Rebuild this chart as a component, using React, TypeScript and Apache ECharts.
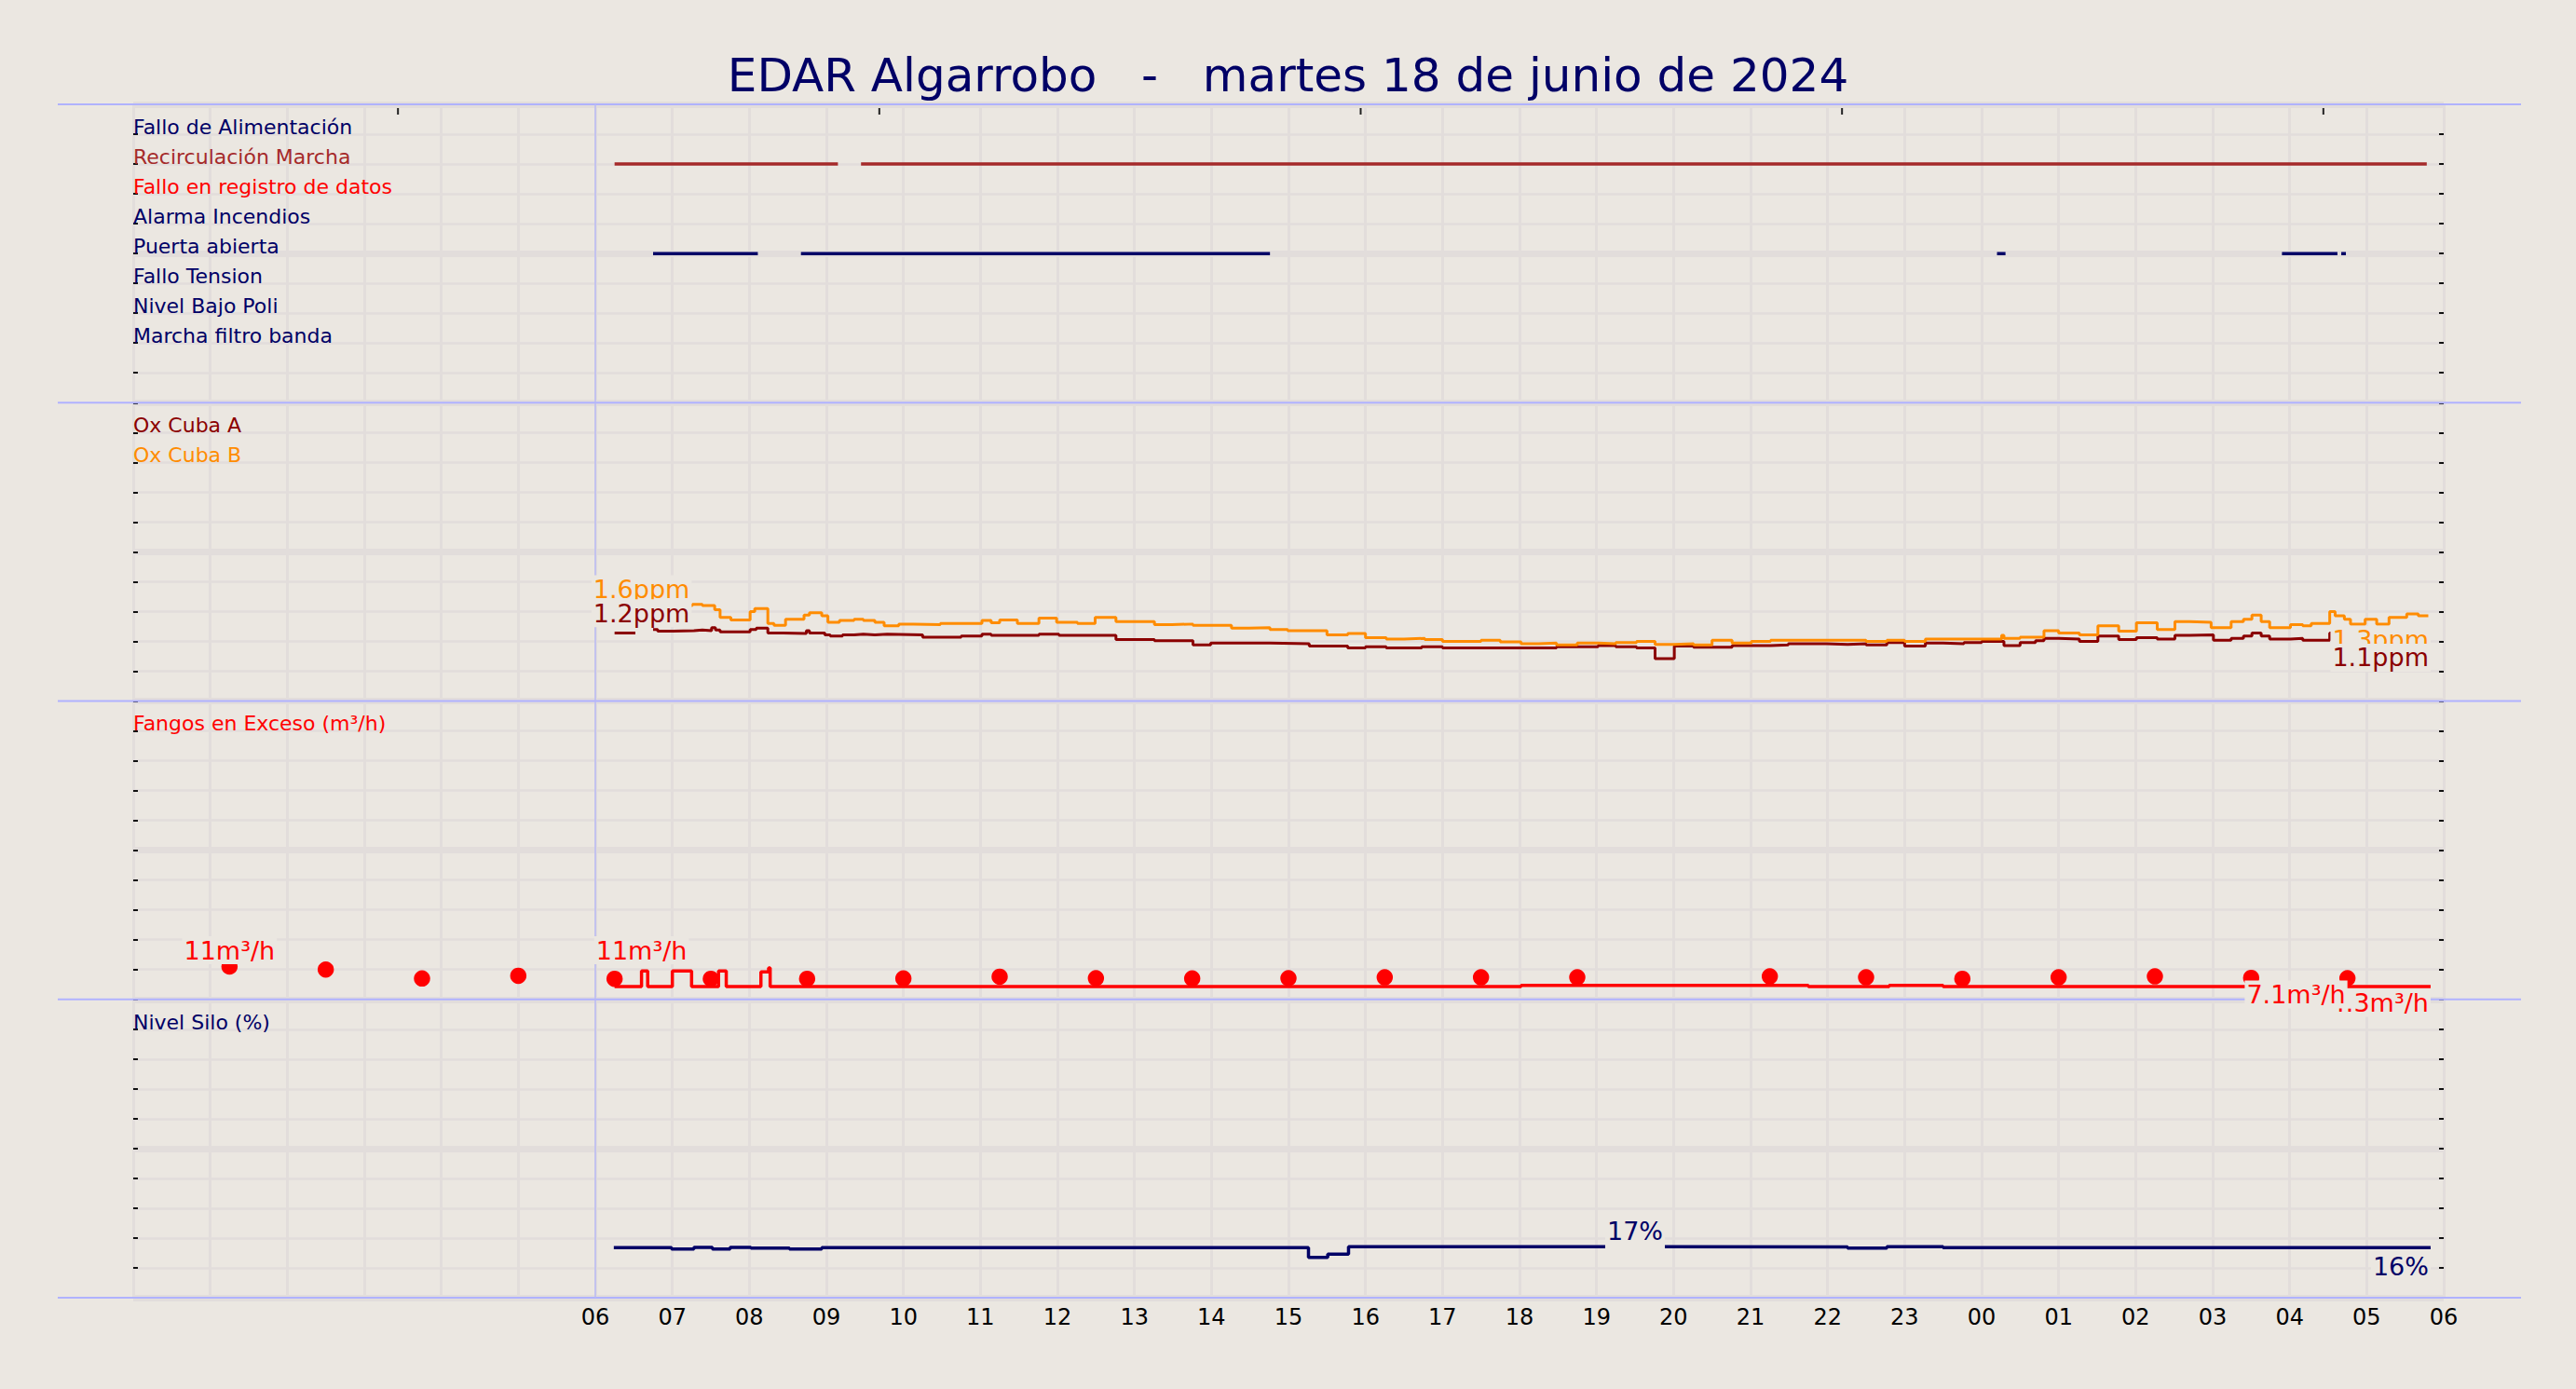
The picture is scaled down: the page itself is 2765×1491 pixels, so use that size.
import { useEffect, useRef } from 'react';
import * as echarts from 'echarts';

const TITLE = 'EDAR Algarrobo   -   martes 18 de junio de 2024';

// panel 1: digital signals, one row each (top to bottom)
const signalRows = [
  'Fallo de Alimentación',
  'Recirculación Marcha',
  'Fallo en registro de datos',
  'Alarma Incendios',
  'Puerta abierta',
  'Fallo Tension',
  'Nivel Bajo Poli',
  'Marcha filtro banda',
];
const signalColors = ['#000066', '#a52a2a', '#ff0000', '#000066', '#000066', '#000066', '#000066', '#000066'];

// on-intervals in hours since 00:00 of the 18th
const recircOn = [[6.25, 9.15], [9.45, 29.78]];
const puertaOn = [[6.75, 8.11], [8.67, 14.76], [24.2, 24.31], [27.9, 28.62], [28.67, 28.73]];

// small marks along the top edge
const topTickHours = [3.4375, 9.6875, 15.9375, 22.1875, 28.4375];

// panel 2: oxygen (ppm), step points [hour, value], null = no data
const oxCubaA = [
  [6.25, 1.14], [6.51, 1.14], [6.52, null], [6.75, 1.2], [6.81, 1.17], [7.01, 1.18], [7.28, 1.19],
  [7.39, 1.18], [7.51, 1.23], [7.56, 1.19], [7.62, 1.16], [8.01, 1.2], [8.09, 1.22], [8.24, 1.14],
  [8.44, 1.13], [8.74, 1.18], [8.78, 1.14], [8.98, 1.11], [9.05, 1.09], [9.21, 1.11], [9.36, 1.12],
  [9.48, 1.11], [9.63, 1.12], [9.79, 1.11], [10.25, 1.07], [10.75, 1.09], [11.02, 1.12], [11.14, 1.1],
  [11.76, 1.12], [12.02, 1.1], [12.76, 1.03], [13.26, 1.01], [13.76, 0.94], [13.99, 0.97], [14.76, 0.96],
  [15.27, 0.92], [15.77, 0.89], [16.0, 0.91], [16.27, 0.89], [16.73, 0.91], [17.0, 0.89], [18.48, 0.91],
  [19.02, 0.93], [19.25, 0.91], [19.52, 0.89], [19.76, 0.71], [20.01, 0.92], [20.26, 0.9], [20.76, 0.93],
  [21.26, 0.94], [21.49, 0.96], [21.99, 0.95], [22.26, 0.96], [22.5, 0.94], [22.77, 0.98], [23.0, 0.92],
  [23.27, 0.97], [23.5, 0.96], [23.77, 0.98], [24.0, 1.0], [24.29, 0.93], [24.5, 0.98], [24.7, 1.01],
  [24.81, 1.05], [25.0, 1.04], [25.27, 1.0], [25.51, 1.09], [25.78, 1.03], [26.01, 1.06], [26.28, 1.04],
  [26.51, 1.1], [26.7, 1.11], [27.01, 1.02], [27.24, 1.05], [27.4, 1.09], [27.51, 1.14], [27.63, 1.09],
  [27.74, 1.04], [28.01, 1.05], [28.17, 1.02], [28.52, 1.14], [28.59, 1.13], [28.71, 1.08], [28.79, 1.06],
  [29.13, 1.04], [29.52, 1.06], [29.8, 1.06],
];
const oxCubaB = [
  [6.25, 1.6], [7.26, 1.62], [7.39, 1.6], [7.55, 1.53], [7.62, 1.4], [7.76, 1.36], [8.01, 1.5],
  [8.07, 1.55], [8.24, 1.3], [8.32, 1.27], [8.47, 1.37], [8.71, 1.44], [8.78, 1.48], [8.94, 1.43],
  [9.02, 1.32], [9.17, 1.35], [9.36, 1.37], [9.48, 1.35], [9.63, 1.32], [9.75, 1.26], [9.94, 1.29],
  [10.13, 1.28], [10.48, 1.3], [11.02, 1.35], [11.14, 1.31], [11.25, 1.36], [11.48, 1.3], [11.76, 1.39],
  [11.99, 1.32], [12.26, 1.3], [12.49, 1.4], [12.76, 1.33], [13.26, 1.28], [13.49, 1.29], [13.76, 1.27],
  [14.26, 1.22], [14.49, 1.23], [14.76, 1.2], [14.99, 1.18], [15.5, 1.11], [15.77, 1.13], [16.0, 1.06],
  [16.27, 1.04], [16.5, 1.05], [16.77, 1.03], [17.0, 1.0], [17.5, 1.02], [17.75, 0.99], [18.02, 0.96],
  [18.25, 0.97], [18.48, 0.94], [18.75, 0.97], [19.02, 0.96], [19.25, 0.98], [19.52, 1.0], [19.76, 0.95],
  [20.01, 0.96], [20.26, 0.94], [20.5, 1.02], [20.76, 0.97], [21.01, 1.0], [21.26, 1.02], [22.5, 1.0],
  [22.77, 1.02], [23.0, 1.0], [23.27, 1.04], [24.26, 1.1], [24.29, 1.05], [24.5, 1.07], [24.81, 1.18],
  [25.0, 1.14], [25.27, 1.11], [25.51, 1.26], [25.78, 1.17], [26.01, 1.31], [26.28, 1.2], [26.51, 1.33],
  [26.7, 1.32], [26.98, 1.23], [27.24, 1.33], [27.4, 1.37], [27.51, 1.44], [27.63, 1.33], [27.74, 1.23],
  [28.01, 1.28], [28.17, 1.26], [28.28, 1.3], [28.52, 1.5], [28.59, 1.43], [28.71, 1.37], [28.79, 1.29],
  [28.98, 1.37], [29.13, 1.29], [29.29, 1.4], [29.52, 1.46], [29.67, 1.43], [29.8, 1.43],
];

// panel 3: excess sludge (m3/h)
const fangosLine = [
  [6.25, 4.3], [6.6, 9.5], [6.68, 4.3], [7.0, 9.5], [7.25, 4.3], [7.6, 9.5], [7.7, 4.3], [8.15, 9.2],
  [8.25, 10.5], [8.27, 4.3], [18.02, 4.7], [21.75, 4.3], [22.8, 4.7], [23.5, 4.3], [29.83, 4.3],
];
const fangosDots = [
  [1.25, 11], [2.5, 10], [3.75, 7.0], [5.0, 7.9], [6.25, 6.9], [7.5, 6.9], [8.75, 6.9], [10.0, 7.0],
  [11.25, 7.6], [12.5, 7.1], [13.75, 7.0], [15.0, 7.1], [16.25, 7.4], [17.5, 7.4], [18.75, 7.4],
  [21.25, 7.7], [22.5, 7.4], [23.75, 6.9], [25.0, 7.4], [26.25, 7.7], [27.5, 7.2], [28.75, 7.1],
];

// panel 4: silo level (%)
const nivelSilo = [
  [6.24, 16.8], [6.99, 16.35], [7.28, 16.9], [7.52, 16.35], [7.75, 16.9], [8.02, 16.6], [8.52, 16.35],
  [8.94, 16.8], [15.26, 13.5], [15.51, 14.6], [15.78, 17.1], [19.88, 17.0], [22.26, 16.6], [22.77, 17.1],
  [23.5, 16.8], [29.83, 16.8],
];

// value annotations: [hour, level, text, colour, where]
const oxLabels = [
  [6.6, 1.6, '1.6ppm', '#ff8c00', 'above'],
  [6.6, 1.2, '1.2ppm', '#8b0000', 'above'],
  [29.83, 1.3, '1.3ppm', '#ff8c00', 'below'],
  [29.83, 1.0, '1.1ppm', '#8b0000', 'below'],
];
const fangosLabels = [
  [1.25, 11, '11m³/h', '#ff0000', 'above'],
  [6.6, 11, '11m³/h', '#ff0000', 'above'],
  [29.83, 4.3, '4.3m³/h', '#ff0000', 'below'],
  [28.75, 7.1, '7.1m³/h', '#ff0000', 'below'],
];
const siloLabels = [
  [19.5, 16.8, '17%', '#000066', 'cover'],
  [29.83, 16, '16%', '#000066', 'below'],
];

const BG = '#ebe7e1';
const GRID_C = '#e2dddb';
const BLUE = '#b0b2ff';
const FONT = 'DejaVu Sans';

const PLOT_LEFT = 143;
const PLOT_RIGHT = 2623;
const TOP = 112;
const PANEL_H = 320.25;
const scales = [
  { max: 10, step: 1 },
  { max: 5, step: 0.5 },
  { max: 100, step: 10 },
  { max: 100, step: 10 },
];

const pad2 = (n: number) => String(n).padStart(2, '0');

function stepData(pts: (number | null)[][]) {
  return pts.map(([h, v]) => [h, v === null ? '-' : v]);
}

function onOffData(segs: number[][], level: number) {
  const out: any[] = [];
  segs.forEach(([a, b]) => {
    out.push([a, level], [b, level], [b, '-']);
  });
  return out;
}

// 'cover' sits above like 'above' but its box reaches down over the line
const labelShift: Record<string, number> = { above: -17.5, cover: -17.5, below: 17.5, row: -7.6 };

function textSeries(grid: number, items: any[], size: number, boxed: boolean) {
  return {
    type: 'scatter',
    xAxisIndex: grid,
    yAxisIndex: grid * 3,
    symbolSize: 1,
    itemStyle: { color: 'rgba(0,0,0,0)', opacity: 1 },
    silent: true,
    z: 5,
    data: items.map(([h, v, text, color, where]) => ({
      value: [h, v],
      label: {
        show: true,
        position: 'inside',
        formatter: text,
        color,
        opacity: 1,
        fontSize: size,
        fontFamily: FONT,
        align: where === 'below' ? 'right' : where === 'row' ? 'left' : 'center',
        verticalAlign: 'middle',
        offset: [0, labelShift[where]],
        ...(boxed
          ? { backgroundColor: BG, lineHeight: 22, padding: [0, 2, where === 'cover' ? 15 : 8, 2] }
          : {}),
      },
    })),
  };
}

const vLine = {
  silent: true,
  symbol: ['none', 'none'],
  label: { show: false },
  lineStyle: { color: '#b8b8f5', width: 1.5, type: 'solid' },
  data: [{ xAxis: 6 }],
};

export default function App() {
  const ref = useRef<HTMLDivElement>(null);

  useEffect(() => {
    if (!ref.current) return;
    const chart = echarts.init(ref.current, null, { renderer: 'svg' });

    const grids = scales.map((_, i) => ({
      left: PLOT_LEFT,
      width: PLOT_RIGHT - PLOT_LEFT,
      top: TOP + i * PANEL_H,
      height: PANEL_H,
    }));

    const xAxes = scales.map((_, i) => ({
      gridIndex: i,
      type: 'value',
      min: 0,
      max: 30,
      interval: 1,
      axisLine: { show: false },
      axisTick: { show: false },
      axisLabel: i === 3
        ? {
            show: true,
            color: '#000',
            fontSize: 24,
            fontFamily: FONT,
            margin: 9,
            showMaxLabel: true,
            formatter: (v: number) => (v < 6 ? '' : pad2(v % 24)),
          }
        : { show: false },
      splitLine: { show: true, lineStyle: { color: GRID_C, width: 3 } },
    }));

    const yAxes: any[] = [];
    scales.forEach((s, i) => {
      const base = {
        gridIndex: i,
        type: 'value',
        min: 0,
        max: s.max,
        axisLine: { show: false },
        axisLabel: { show: false },
      };
      yAxes.push({
        ...base,
        position: 'left',
        interval: s.step,
        axisTick: { show: true, inside: true, length: 5, lineStyle: { color: '#111', width: 2 } },
        splitLine: { show: true, lineStyle: { color: GRID_C, width: 2.5 } },
      });
      yAxes.push({
        ...base,
        position: 'right',
        interval: s.step,
        axisTick: { show: true, inside: true, length: 5, lineStyle: { color: '#111', width: 2 } },
        splitLine: { show: false },
      });
      yAxes.push({
        ...base,
        position: 'left',
        interval: s.step * 5,
        axisTick: { show: false },
        splitLine: { show: true, lineStyle: { color: GRID_C, width: 7 } },
      });
    });

    const boundaries = [0, 1, 2, 3, 4].map((i) => TOP + i * PANEL_H);

    const option = {
      animation: false,
      backgroundColor: BG,
      textStyle: { fontFamily: FONT },
      title: {
        text: TITLE,
        left: 'center',
        top: 56,
        padding: 0,
        textStyle: { fontSize: 50, fontWeight: 'normal', color: '#000066', fontFamily: FONT },
      },
      grid: grids,
      xAxis: xAxes,
      yAxis: yAxes,
      graphic: boundaries.map((y) => ({
        type: 'line',
        silent: true,
        z: 1,
        shape: { x1: 62, y1: y, x2: 2706, y2: y },
        style: { stroke: BLUE, lineWidth: 2 },
      })),
      series: [
        // panel 1
        {
          type: 'line',
          name: 'Recirculación Marcha',
          xAxisIndex: 0,
          yAxisIndex: 0,
          data: onOffData(recircOn, 8),
          showSymbol: false,
          lineStyle: { color: '#a52a2a', width: 3.5 },
          silent: true,
          markLine: vLine,
        },
        {
          type: 'line',
          name: 'Puerta abierta',
          xAxisIndex: 0,
          yAxisIndex: 0,
          data: onOffData(puertaOn, 5),
          showSymbol: false,
          lineStyle: { color: '#000066', width: 3.5 },
          silent: true,
        },
        {
          type: 'scatter',
          xAxisIndex: 0,
          yAxisIndex: 0,
          data: topTickHours.map((h) => [h, 10]),
          symbol: 'rect',
          symbolSize: [2, 7],
          symbolOffset: [0, 7.5],
          itemStyle: { color: '#222', opacity: 1 },
          silent: true,
        },
        textSeries(0, signalRows.map((t, i) => [0, 9 - i, t, signalColors[i], 'row']), 22, false),
        // panel 2
        {
          type: 'line',
          name: 'Ox Cuba A',
          xAxisIndex: 1,
          yAxisIndex: 3,
          data: stepData(oxCubaA),
          step: 'end',
          showSymbol: false,
          lineStyle: { color: '#8b0000', width: 3 },
          silent: true,
          markLine: vLine,
        },
        {
          type: 'line',
          name: 'Ox Cuba B',
          xAxisIndex: 1,
          yAxisIndex: 3,
          data: stepData(oxCubaB),
          step: 'end',
          showSymbol: false,
          lineStyle: { color: '#ff8c00', width: 3 },
          silent: true,
        },
        textSeries(1, [
          [0, 4.5, 'Ox Cuba A', '#8b0000', 'row'],
          [0, 4.0, 'Ox Cuba B', '#ff8c00', 'row'],
        ], 22, false),
        textSeries(1, oxLabels, 27, true),
        // panel 3
        {
          type: 'line',
          name: 'Fangos en Exceso',
          xAxisIndex: 2,
          yAxisIndex: 6,
          data: fangosLine,
          step: 'end',
          showSymbol: false,
          lineStyle: { color: '#ff0000', width: 3.5 },
          silent: true,
          markLine: vLine,
        },
        {
          type: 'scatter',
          xAxisIndex: 2,
          yAxisIndex: 6,
          data: fangosDots,
          symbolSize: 17.5,
          itemStyle: { color: '#ff0000', opacity: 1 },
          silent: true,
          z: 3,
        },
        textSeries(2, [[0, 90, 'Fangos en Exceso (m³/h)', '#ff0000', 'row']], 22, false),
        textSeries(2, fangosLabels, 27, true),
        // panel 4
        {
          type: 'line',
          name: 'Nivel Silo',
          xAxisIndex: 3,
          yAxisIndex: 9,
          data: nivelSilo,
          step: 'end',
          showSymbol: false,
          lineStyle: { color: '#000066', width: 3.5 },
          silent: true,
          markLine: vLine,
        },
        textSeries(3, [[0, 90, 'Nivel Silo (%)', '#000066', 'row']], 22, false),
        textSeries(3, siloLabels, 27, true),
      ],
    };

    chart.setOption(option as any);

    const onResize = () => chart.resize();
    window.addEventListener('resize', onResize);
    return () => {
      window.removeEventListener('resize', onResize);
      chart.dispose();
    };
  }, []);

  return (
    <div
      ref={ref}
      style={{ position: 'fixed', left: 0, top: 0, width: '100vw', height: '100vh' }}
    />
  );
}
